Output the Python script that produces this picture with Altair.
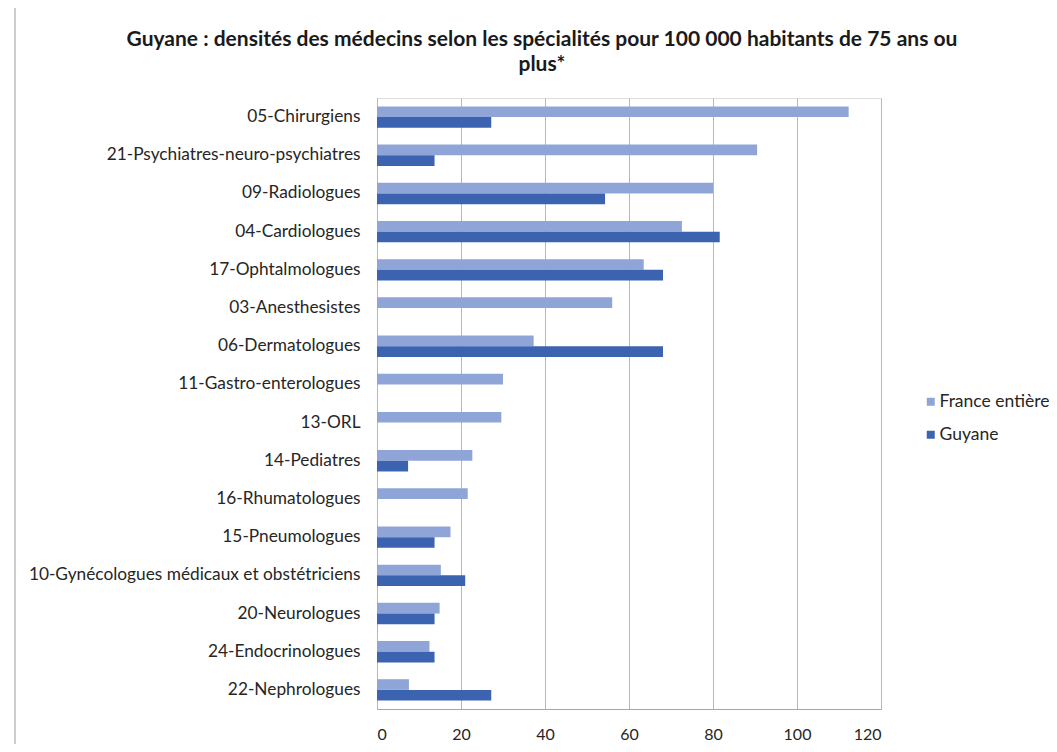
import altair as alt
import pandas as pd

categories = [
    "05-Chirurgiens",
    "21-Psychiatres-neuro-psychiatres",
    "09-Radiologues",
    "04-Cardiologues",
    "17-Ophtalmologues",
    "03-Anesthesistes",
    "06-Dermatologues",
    "11-Gastro-enterologues",
    "13-ORL",
    "14-Pediatres",
    "16-Rhumatologues",
    "15-Pneumologues",
    "10-Gynécologues médicaux et obstétriciens",
    "20-Neurologues",
    "24-Endocrinologues",
    "22-Nephrologues",
]
france = [112.3, 90.5, 80.0, 72.6, 63.5, 56.0, 37.3, 30.0, 29.6, 22.7, 21.6, 17.5, 15.2, 14.9, 12.5, 7.6]
guyane = [27.2, 13.7, 54.3, 81.6, 68.1, 0, 68.1, 0, 0, 7.4, 0, 13.7, 21.0, 13.7, 13.7, 27.2]
series = ["France entière", "Guyane"]
colors = ["#8FA5D7", "#3B63AF"]
x_ticks = [0, 20, 40, 60, 80, 100, 120]

rows = []
for c, f, g in zip(categories, france, guyane):
    rows.append({"cat": c, "serie": series[0], "val": f})
    rows.append({"cat": c, "serie": series[1], "val": g})
df = pd.DataFrame(rows)

FONT = "Lato"

bars = alt.Chart(df).mark_bar().encode(
    y=alt.Y("cat:N", sort=categories, title=None,
            scale=alt.Scale(paddingInner=0.44, paddingOuter=0.22),
            axis=alt.Axis(labelFont=FONT, labelFontSize=17.3, labelColor="#262626",
                          labelLimit=400, labelPadding=17, ticks=False, domain=False,
                          grid=False)),
    yOffset=alt.YOffset("serie:N", sort=series, scale=alt.Scale(paddingInner=0, paddingOuter=0)),
    x=alt.X("val:Q", title=None,
            scale=alt.Scale(domain=[0, 120], nice=False),
            axis=alt.Axis(values=x_ticks, labelFont=FONT, labelFontSize=16, labelColor="#262626",
                          labelPadding=17, ticks=False, domainColor="#A6A6A6",
                          gridColor="#B8B8B8", gridWidth=1)),
    color=alt.Color("serie:N", sort=series,
                    scale=alt.Scale(domain=series, range=colors),
                    legend=alt.Legend(title=None, orient="none", legendX=541, legendY=295,
                                      symbolType="square", symbolSize=64, symbolStrokeWidth=0,
                                      symbolOffset=4,
                                      labelFont=FONT, labelFontSize=17.5, labelColor="#262626",
                                      rowPadding=14, padding=0, labelOffset=0)),
)

frame_left = alt.Chart(alt.Data(values=[{}])).mark_rule(color="#BDBDBD", strokeWidth=1.5).encode(
    x=alt.value(-362), y=alt.value(-92), y2=alt.value(700)
)
frame_top = alt.Chart(alt.Data(values=[{}])).mark_rule(color="#BDBDBD", strokeWidth=1.5).encode(
    x=alt.value(-362), x2=alt.value(672), y=alt.value(-92)
)

chart = alt.layer(bars, frame_left, frame_top).properties(
    width=504,
    height=611,
    autosize=alt.AutoSizeParams(type="none"),
    padding={"left": 369, "top": 90, "right": 168, "bottom": 35},
    title=alt.TitleParams(
        text=["Guyane : densités des médecins selon les spécialités pour 100 000 habitants de 75 ans ou", "plus*"],
        font=FONT, fontSize=21, fontWeight="bold", color="#1a1a1a",
        anchor="middle", frame="group", dx=-87, offset=-70, lineHeight=25,
    ),
).configure_view(stroke=None).configure(background="white")

chart.save("out.html", embed_options={"renderer": "svg", "actions": False})
